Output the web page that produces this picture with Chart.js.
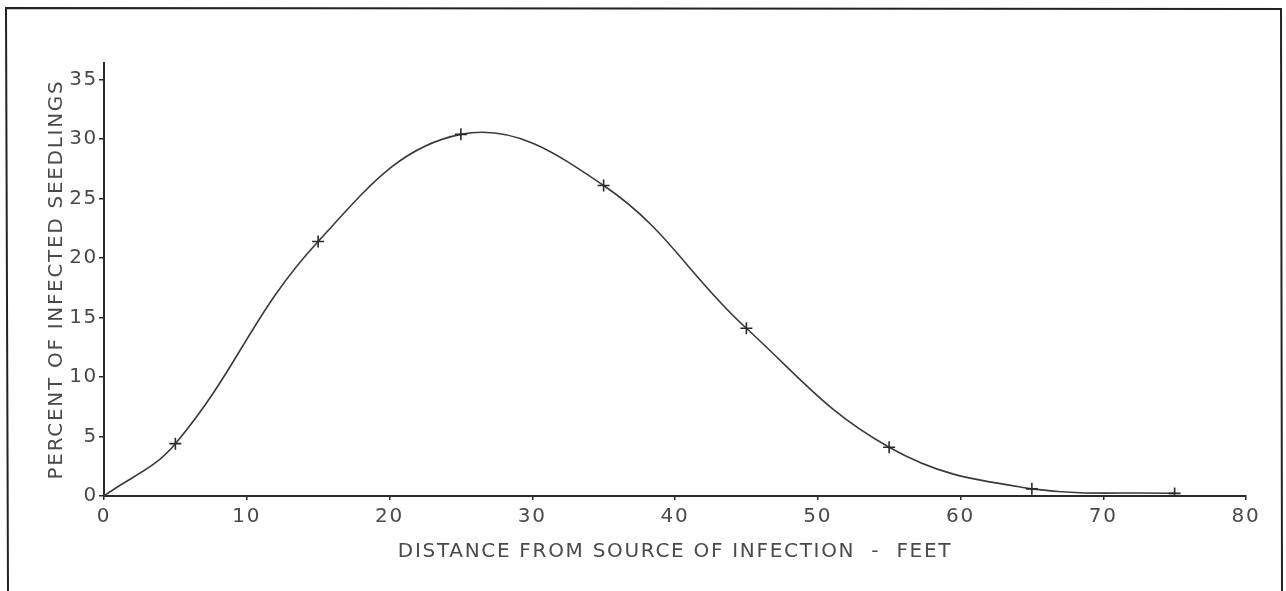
<!DOCTYPE html>
<html>
<head>
<meta charset="utf-8">
<script src="https://cdn.jsdelivr.net/npm/chart.js@4"></script>
<style>
  html, body { margin: 0; padding: 0; background: #fff; }
  #wrap { width: 1286px; height: 591px; position: relative; }
</style>
</head>
<body>
<div id="wrap"><canvas id="c" width="1286" height="591"></canvas></div>
<script>
// Distance from source of infection (feet)
const distances = [0, 5, 15, 25, 35, 45, 55, 65, 75];
// Percent of infected seedlings
const percents = [0, 4.4, 21.4, 30.4, 26.1, 14.1, 4.1, 0.6, 0.22];
// Which points carry a "+" marker (origin is the curve start only)
const marked = [false, true, true, true, true, true, true, true, true];
const xTicks = [0, 10, 20, 30, 40, 50, 60, 70, 80];
const yTicks = [0, 5, 10, 15, 20, 25, 30, 35];
const xTitle = 'DISTANCE FROM SOURCE OF INFECTION  -  FEET';
const yTitle = 'PERCENT OF INFECTED SEEDLINGS';

const INK = '#2a2a2a';
const TEXT = '#4a4a4a';
const FONT = "'DejaVu Sans', sans-serif";

const spacing = {
  id: 'spacing',
  beforeLayout(chart) { chart.ctx.letterSpacing = '1.7px'; },
  beforeDraw(chart) { chart.ctx.letterSpacing = '1.7px'; }
};

const frame = {
  id: 'frame',
  afterDraw(chart) {
    const ctx = chart.ctx;
    ctx.save();
    ctx.strokeStyle = '#222';
    ctx.lineWidth = 2;
    ctx.beginPath();
    ctx.moveTo(8, 591); ctx.lineTo(6, 8); ctx.lineTo(1281, 9); ctx.lineTo(1282, 591);
    ctx.stroke();
    ctx.restore();
  }
};

new Chart(document.getElementById('c'), {
  type: 'scatter',
  data: {
    datasets: [{
      data: distances.map((d, i) => ({ x: d, y: percents[i] })),
      showLine: true,
      borderColor: '#3a3a3a',
      borderWidth: 1.6,
      tension: 0.4,
      pointStyle: 'cross',
      pointRadius: marked.map(m => m ? 6 : 0),
      pointBorderColor: INK,
      pointBorderWidth: 1.6,
      pointBackgroundColor: INK
    }]
  },
  options: {
    responsive: false,
    animation: false,
    events: [],
    layout: { padding: { left: 35, right: 40, top: 63, bottom: 0 } },
    plugins: { legend: { display: false }, tooltip: { enabled: false } },
    scales: {
      x: {
        type: 'linear',
        min: 0, max: 80,
        afterBuildTicks(s) { s.ticks = xTicks.map(v => ({ value: v })); },
        afterFit(s) { s.height = 95; },
        grid: { drawOnChartArea: false, drawTicks: true, tickLength: 4, color: INK, lineWidth: 1.5 },
        border: { display: true, color: INK, width: 2 },
        ticks: { color: TEXT, font: { family: FONT, size: 20 }, padding: 5, maxRotation: 0 },
        title: { display: true, text: xTitle, color: TEXT, font: { family: FONT, size: 20 }, padding: { top: 0, bottom: 27 } }
      },
      y: {
        type: 'linear',
        min: 0, max: 36.4,
        afterBuildTicks(s) { s.ticks = yTicks.map(v => ({ value: v })); },
        afterFit(s) { s.width = 69; },
        grid: { drawOnChartArea: false, drawTicks: true, tickLength: 5, color: INK, lineWidth: 1.5 },
        border: { display: true, color: INK, width: 2 },
        ticks: { color: TEXT, font: { family: FONT, size: 20 }, padding: 1 },
        title: { display: true, text: yTitle, color: TEXT, font: { family: FONT, size: 20 }, padding: { top: 10, bottom: 0 } }
      }
    }
  },
  plugins: [spacing, frame]
});
</script>
</body>
</html>
